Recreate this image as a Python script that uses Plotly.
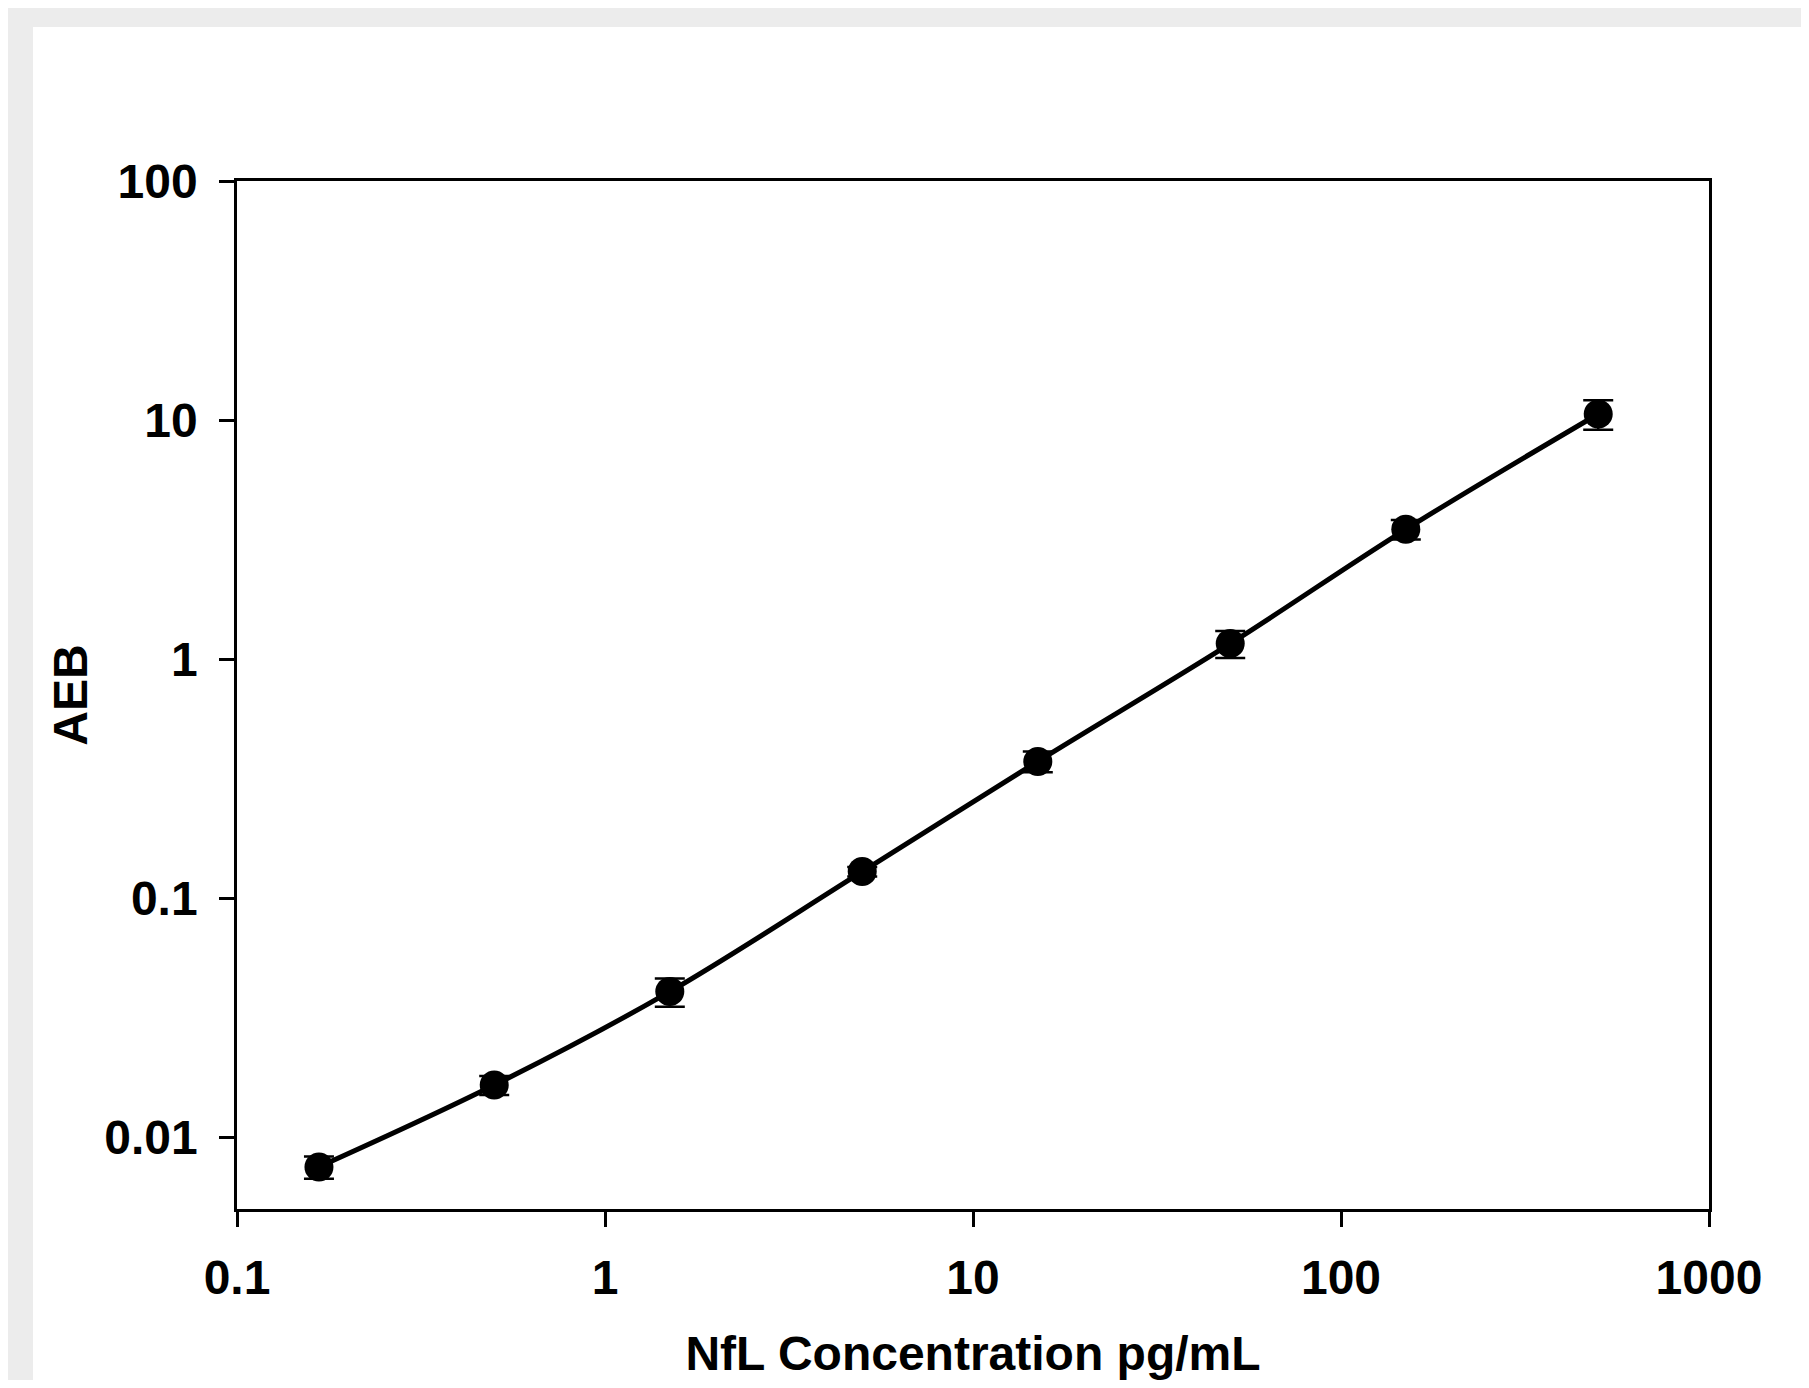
import plotly.graph_objects as go

# Data
concentration = [0.167, 0.5, 1.5, 5, 15, 50, 150, 500]          # NfL pg/mL
aeb = [0.0075, 0.0165, 0.0406, 0.129, 0.373, 1.16, 3.49, 10.6]  # AEB
aeb_err = [0.0008, 0.0015, 0.0055, 0.006, 0.037, 0.15, 0.33, 1.5]

x_tickvals = [0.1, 1, 10, 100, 1000]
x_ticktext = ["0.1", "1", "10", "100", "1000"]
y_tickvals = [0.01, 0.1, 1, 10, 100]
y_ticktext = ["0.01", "0.1", "1", "10", "100"]

x_title = "NfL Concentration pg/mL"
y_title = "AEB"

# The page body adds an 8 px offset; the figure is sized to compensate
OFF = 8
W, H = 1809 - 2 * OFF, 1388 - 2 * OFF
ML = 237 - OFF
MT = 181 - OFF
MR = W - (1709 - OFF)
MB = H - (1209 - OFF)
FONT = "Liberation Sans, Arial, sans-serif"

fig = go.Figure()

fig.add_trace(go.Scatter(
    x=concentration, y=aeb,
    mode="lines",
    line=dict(color="black", width=5, shape="spline", smoothing=1.0),
    hoverinfo="skip", showlegend=False,
))

fig.add_trace(go.Scatter(
    x=concentration, y=aeb,
    mode="markers",
    marker=dict(color="black", size=29, line=dict(width=0)),
    error_y=dict(type="data", array=aeb_err, visible=True,
                 color="black", thickness=2.5, width=15),
    showlegend=False,
))

pw = W - ML - MR
ph = H - MT - MB
fig.add_shape(
    type="rect", xref="paper", yref="paper", layer="below",
    x0=(33 - OFF - ML) / pw, x1=(W + 20 - ML) / pw,
    y0=(H - MB - (H + 20)) / ph, y1=(H - MB - (27 - OFF)) / ph,
    fillcolor="white", line=dict(width=0),
)

axis_common = dict(
    showline=True, linecolor="black", linewidth=2.5, mirror=True,
    ticks="outside", ticklen=15, tickwidth=2.5, tickcolor="black",
    showgrid=False, zeroline=False,
    tickfont=dict(family=FONT, size=48, color="black", weight="bold"),
)

fig.update_xaxes(
    type="log", range=[-1, 3],
    tickvals=x_tickvals, ticktext=x_ticktext,
    ticklabelstandoff=10,
    title=dict(text=x_title, standoff=76,
               font=dict(family=FONT, size=48, color="black", weight="bold")),
    **axis_common,
)
fig.update_yaxes(
    type="log", range=[-2.301, 2],
    tickvals=y_tickvals, ticktext=y_ticktext,
    ticklabelstandoff=12,
    title=dict(text=y_title, standoff=2,
               font=dict(family=FONT, size=48, color="black", weight="bold")),
    **axis_common,
)

fig.update_layout(
    width=W, height=H,
    margin=dict(l=ML, r=MR, t=MT, b=MB, autoexpand=False),
    paper_bgcolor="#ececec",
    plot_bgcolor="white",
    showlegend=False,
)

fig.write_html("out.html")
